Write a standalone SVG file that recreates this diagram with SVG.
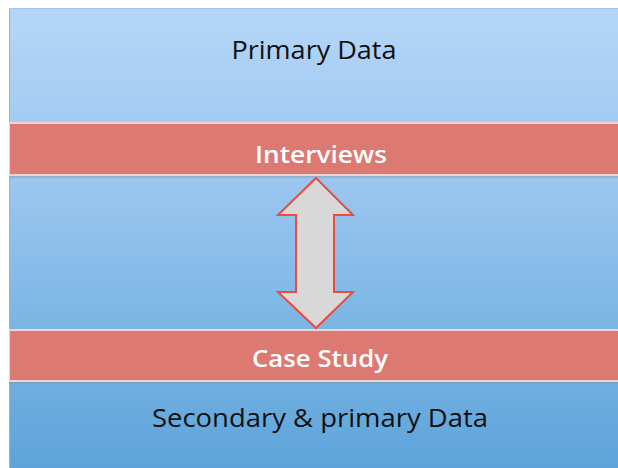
<svg xmlns="http://www.w3.org/2000/svg" width="618" height="468" viewBox="0 0 618 468">
<defs>
<linearGradient id="bg" x1="0" y1="0" x2="0" y2="1">
<stop offset="0" stop-color="#b5d6f8"/>
<stop offset="0.4" stop-color="#98c5ee"/>
<stop offset="1" stop-color="#5da4da"/>
</linearGradient>
<linearGradient id="shadow" x1="0" y1="0" x2="0" y2="1">
<stop offset="0" stop-color="#7f99b0" stop-opacity="0.6"/>
<stop offset="1" stop-color="#7f99b0" stop-opacity="0"/>
</linearGradient>
<style>
.band{fill:#dc7972;}
.hl{fill:#f3d3cf;}
.dark{font-family:"Open Sans","Liberation Sans",Arial,sans-serif;font-size:25px;fill:#111;text-anchor:middle;}
.light{font-family:"Open Sans","Liberation Sans",Arial,sans-serif;font-size:24px;font-weight:600;fill:#ffffff;text-anchor:middle;}
.arrow{fill:#d8d8d8;stroke:#ee4a3e;stroke-width:2;stroke-linejoin:miter;}
</style>
</defs>
<rect x="0" y="0" width="618" height="468" fill="#ffffff"/>
<rect x="9" y="8" width="609" height="460" fill="url(#bg)"/>
<line x1="9.5" y1="8" x2="9.5" y2="468" stroke="#8fb7e0" stroke-width="1"/>
<line x1="9" y1="8.5" x2="618" y2="8.5" stroke="#9fc6ee" stroke-width="1"/>

<g id="primary-data">
<text class="dark" x="314" y="59" textLength="165" lengthAdjust="spacingAndGlyphs">Primary Data</text>
</g>

<g id="interviews">
<rect x="9" y="176" width="609" height="3" fill="url(#shadow)"/>
<rect class="hl" x="9" y="122" width="609" height="54"/>
<rect class="band" x="10" y="124" width="608" height="50"/>
<text class="light" x="321" y="163" textLength="132" lengthAdjust="spacingAndGlyphs">Interviews</text>
</g>

<g id="case-study">
<rect x="9" y="382" width="609" height="3" fill="url(#shadow)"/>
<rect class="hl" x="9" y="329" width="609" height="53"/>
<rect class="band" x="10" y="331" width="608" height="49"/>
<text class="light" x="320" y="367" textLength="136" lengthAdjust="spacingAndGlyphs">Case Study</text>
</g>

<g id="secondary-primary-data">
<text class="dark" x="320" y="427" textLength="336" lengthAdjust="spacingAndGlyphs">Secondary &amp; primary Data</text>
</g>

<g id="connectors">
<path class="arrow" d="M316,178 L353,215 L334,215 L334,292 L353,292 L316,328 L278,292 L296,292 L296,215 L278,215 Z"/>
</g>
</svg>
